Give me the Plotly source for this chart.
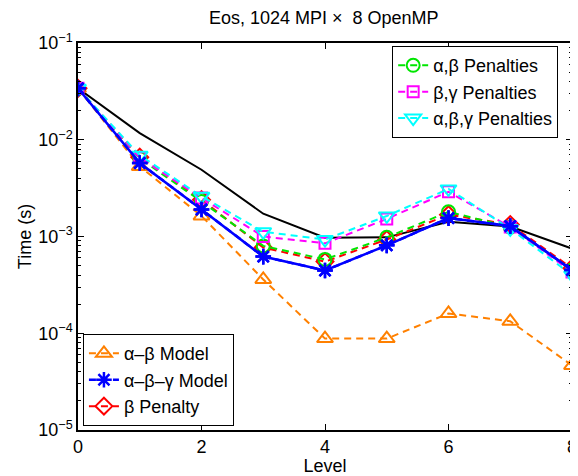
import plotly.graph_objects as go

levels = [0, 1, 2, 3, 4, 5, 6, 7, 8]

measured = [0.034, 0.0117, 0.0049, 0.00172, 0.00097, 0.00098, 0.00142, 0.00127, 0.00075]
ab_model = [0.034, 0.0053, 0.00163, 0.00036, 0.000088, 0.000088, 0.00016, 0.000133, 0.0000465]
abg_model = [0.034, 0.00575, 0.0019, 0.00062, 0.000445, 0.00081, 0.00155, 0.00128, 0.00045]
b_penalty = [0.034, 0.0066, 0.0024, 0.00077, 0.00055, 0.00093, 0.00168, 0.00133, 0.00047]
ab_pen = [0.034, 0.0064, 0.0023, 0.0008, 0.00058, 0.00098, 0.0018, 0.00125, 0.00045]
bg_pen = [0.034, 0.0065, 0.0025, 0.001, 0.00085, 0.00152, 0.0029, 0.00125, 0.00043]
abg_pen = [0.034, 0.0069, 0.0026, 0.00112, 0.00093, 0.00163, 0.0031, 0.0012, 0.0004]

ytick_vals = [1e-5, 1e-4, 1e-3, 1e-2, 1e-1]
ytick_text = ["10<sup>\u22125</sup>", "10<sup>\u22124</sup>", "10<sup>\u22123</sup>",
              "10<sup>\u22122</sup>", "10<sup>\u22121</sup>"]
decades = [1e-5, 1e-4, 1e-3, 1e-2]
mantissas = [2, 3, 4, 5, 6, 7, 8, 9]
minor_vals = [m * d for d in decades for m in mantissas]

FONT = "Liberation Sans, Arial, Helvetica, sans-serif"
DASH = "7px,5px"

fig = go.Figure()

fig.add_trace(go.Scatter(x=levels, y=measured, mode="lines",
                         line=dict(color="black", width=2), showlegend=False))

def dashed(name, y, color, symbol, legend, rank, size=13):
    fig.add_trace(go.Scatter(
        x=levels, y=y, mode="lines+markers", name=name, legend=legend, legendrank=rank,
        line=dict(color=color, width=2, dash=DASH),
        marker=dict(symbol=symbol, size=size, color=color,
                    line=dict(color=color, width=2))))

dashed("\u03b1\u2013\u03b2 Model", ab_model, "#ff8000", "triangle-up-open", "legend2", 1, 14)
dashed("\u03b2 Penalty", b_penalty, "#ff0000", "diamond-open", "legend2", 3, 13)
dashed("\u03b1,\u03b2 Penalties", ab_pen, "#00e600", "circle-open", "legend", 1, 13)
dashed("\u03b2,\u03b3 Penalties", bg_pen, "#ff00ff", "square-open", "legend", 2, 11)
dashed("\u03b1,\u03b2,\u03b3 Penalties", abg_pen, "#00ffff", "triangle-down-open", "legend", 3, 14)

fig.add_trace(go.Scatter(
    x=levels, y=abg_model, mode="lines+markers", name="\u03b1\u2013\u03b2\u2013\u03b3 Model",
    legend="legend2", legendrank=2, line=dict(color="#0000ff", width=2.5, dash=DASH),
    marker=dict(symbol="asterisk-open", size=13, color="#0000ff",
                line=dict(color="#0000ff", width=2.5))))
fig.add_trace(go.Scatter(
    x=levels, y=abg_model, mode="lines+markers", showlegend=False,
    line=dict(color="#0000ff", width=2.5),
    marker=dict(symbol="asterisk-open", size=13, color="#0000ff",
                line=dict(color="#0000ff", width=2.5))))

axis_common = dict(showline=True, linecolor="black", linewidth=1.5, mirror="ticks",
                   ticks="inside", ticklen=6, tickcolor="black", showgrid=False,
                   zeroline=False, automargin=False,
                   tickfont=dict(size=18, color="black", family=FONT))

# page body has an 8px default margin, so the figure is sized to fit inside it
fig.update_layout(
    width=570, height=468,
    margin=dict(l=70, r=6, t=35, b=46),
    paper_bgcolor="white", plot_bgcolor="white",
    font=dict(family=FONT, size=18, color="black"),
    title=dict(text="Eos, 1024 MPI \u00d7  8 OpenMP", x=0.554, xanchor="center",
               y=0.98, yanchor="middle", font=dict(size=18, family=FONT, color="black")),
    xaxis=dict(range=[0, 8], tickvals=[0, 2, 4, 6, 8],
               title=dict(text="Level", standoff=0, font=dict(size=18)), **axis_common),
    yaxis=dict(type="log", range=[-5, -1], tickvals=ytick_vals, ticktext=ytick_text,
               title=dict(text="Time (s)", standoff=2, font=dict(size=18)),
               **axis_common),
    yaxis2=dict(type="log", range=[-5, -1], overlaying="y", side="left",
                tickvals=minor_vals, showticklabels=False, ticks="inside", ticklen=3,
                tickcolor="black", mirror="ticks", showline=False, showgrid=False,
                zeroline=False, automargin=False),
    legend=dict(x=0.972, y=0.992, xanchor="right", yanchor="top",
                bordercolor="black", borderwidth=1, bgcolor="white",
                font=dict(size=18), tracegroupgap=0, itemwidth=30),
    legend2=dict(x=0.01, y=0.01, xanchor="left", yanchor="bottom",
                 bordercolor="black", borderwidth=1, bgcolor="white",
                 font=dict(size=18), tracegroupgap=0, itemwidth=30),
)

fig.add_trace(go.Scatter(x=[None], y=[None], yaxis="y2", showlegend=False, hoverinfo="skip"))

fig.write_html("out.html")
